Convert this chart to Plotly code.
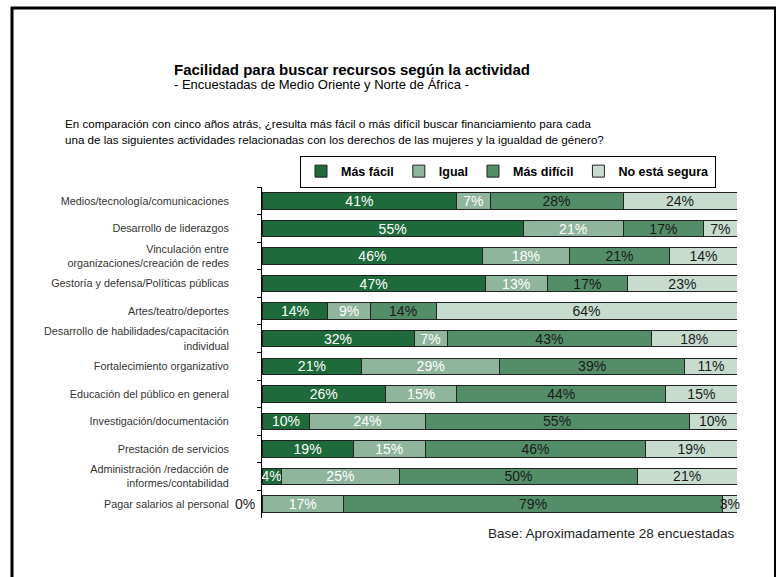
import plotly.graph_objects as go

W, H = 781, 577

categories = [
    "Medios/tecnología/comunicaciones",
    "Desarrollo de liderazgos",
    "Vinculación entre<br>organizaciones/creación de redes",
    "Gestoría y defensa/Políticas públicas",
    "Artes/teatro/deportes",
    "Desarrollo de habilidades/capacitación<br>individual",
    "Fortalecimiento organizativo",
    "Educación del público en general",
    "Investigación/documentación",
    "Prestación de servicios",
    "Administración /redacción de<br>informes/contabilidad",
    "Pagar salarios al personal",
]

series_names = ["Más fácil", "Igual", "Más difícil", "No está segura"]
mas_facil = [41, 55, 46, 47, 14, 32, 21, 26, 10, 19, 4, 0]
igual = [7, 21, 18, 13, 9, 7, 29, 15, 24, 15, 25, 17]
mas_dificil = [28, 17, 21, 17, 14, 43, 39, 44, 55, 46, 50, 79]
no_segura = [24, 7, 14, 23, 64, 18, 11, 15, 10, 19, 21, 3]

colors = ["#1e6a3a", "#8fb59d", "#538e69", "#c7dccf"]
text_colors = ["white", "white", "#1a1a1a", "#1a1a1a"]

FONT = "Liberation Sans, Arial, sans-serif"

def px_x(p):
    return p / W

def px_y(p):
    return 1 - p / H

fig = go.Figure()
for name, vals, col, tcol in zip(series_names, [mas_facil, igual, mas_dificil, no_segura], colors, text_colors):
    fig.add_trace(go.Bar(
        y=categories, x=vals, name=f"<b>{name}</b>", orientation="h",
        marker=dict(color=col, line=dict(color="#222222", width=1)),
        text=[f"{v}%" if v > 0 else "" for v in vals],
        textposition="inside", insidetextanchor="middle",
        constraintext="none", textangle=0,
        textfont=dict(family=FONT, size=14, color=tcol),
        cliponaxis=False,
        width=0.6,
    ))

annotations = []
# zero-valued first segments labelled at the axis
for cat, v in zip(categories, mas_facil):
    if v == 0:
        annotations.append(dict(x=0, y=cat, xref="x", yref="y", text=f"{v}%",
                                showarrow=False, xanchor="right", xshift=-5,
                                font=dict(family=FONT, size=14, color="#1a1a1a")))

annotations += [
    dict(x=px_x(172), y=px_y(70), xref="paper", yref="paper", xanchor="left", yanchor="middle",
         text="<b>Facilidad para buscar recursos según la actividad</b>", showarrow=False,
         font=dict(family=FONT, size=15, color="black")),
    dict(x=px_x(172), y=px_y(84), xref="paper", yref="paper", xanchor="left", yanchor="middle",
         text="- Encuestadas de Medio Oriente y Norte de África -", showarrow=False,
         font=dict(family=FONT, size=13, color="black")),
    dict(x=px_x(63), y=px_y(124), xref="paper", yref="paper", xanchor="left", yanchor="middle",
         text="En comparación con cinco años atrás, ¿resulta más fácil o más difícil buscar financiamiento para cada",
         showarrow=False, font=dict(family=FONT, size=11.6, color="black")),
    dict(x=px_x(63), y=px_y(140), xref="paper", yref="paper", xanchor="left", yanchor="middle",
         text="una de las siguientes actividades relacionadas con los derechos de las mujeres y la igualdad de género?",
         showarrow=False, font=dict(family=FONT, size=11.6, color="black")),
    dict(x=px_x(736), y=px_y(533), xref="paper", yref="paper", xanchor="right", yanchor="middle",
         text="Base: Aproximadamente 28 encuestadas", showarrow=False,
         font=dict(family=FONT, size=13.5, color="#222222")),
]

shapes = [
    dict(type="line", xref="paper", yref="paper", x0=px_x(12), x1=px_x(12), y0=px_y(7), y1=px_y(580),
         line=dict(color="black", width=3)),
    dict(type="line", xref="paper", yref="paper", x0=px_x(11), x1=px_x(776), y0=px_y(8), y1=px_y(8),
         line=dict(color="black", width=3)),
    dict(type="line", xref="paper", yref="paper", x0=px_x(775), x1=px_x(775), y0=px_y(7), y1=px_y(580),
         line=dict(color="black", width=2)),
]

fig.update_layout(
    width=W, height=H,
    margin=dict(l=0, r=0, t=0, b=0),
    paper_bgcolor="white", plot_bgcolor="white",
    barmode="stack", barnorm="percent",
    showlegend=True,
    legend=dict(orientation="h", x=px_x(508), y=px_y(171.5), xanchor="center", yanchor="middle",
                bordercolor="black", borderwidth=1, bgcolor="white",
                font=dict(family=FONT, size=12.5, color="black"),
                traceorder="normal", itemwidth=30),
    xaxis=dict(domain=[px_x(262), px_x(737)], range=[0, 100.0001], visible=False, fixedrange=True),
    yaxis=dict(domain=[px_y(517.7), px_y(187.3)], autorange="reversed", type="category",
               showline=True, linecolor="black", linewidth=1,
               ticks="outside", ticklen=4, tickcolor="black", tickson="boundaries",
               ticklabelstandoff=30, showgrid=False, fixedrange=True,
               tickfont=dict(family=FONT, size=10.8, color="#333333")),
    annotations=annotations,
    shapes=shapes,
    font=dict(family=FONT),
    hovermode=False,
)

fig.write_html(
    "out.html",
    config={"displayModeBar": False, "staticPlot": True},
    post_script="document.body.style.margin='0';document.body.style.padding='0';document.body.style.overflow='hidden';",
)
